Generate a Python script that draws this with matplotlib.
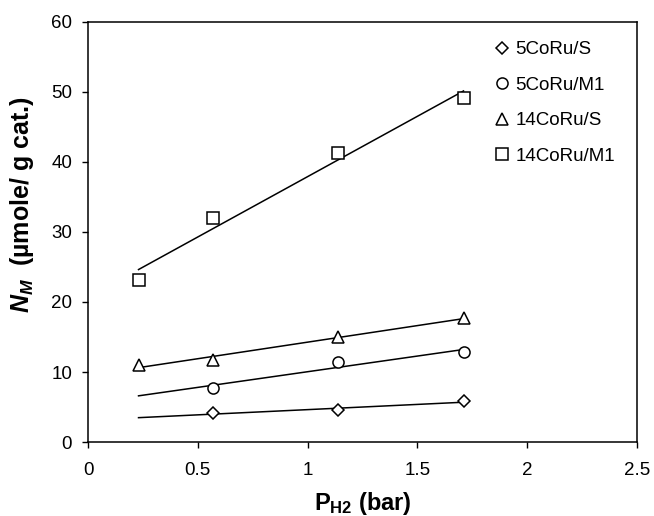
import numpy as np
import matplotlib
matplotlib.use("Agg")
import matplotlib.pyplot as plt

plt.rcParams["font.family"] = ["Liberation Sans", "DejaVu Sans"]
plt.rcParams["mathtext.fontset"] = "custom"
plt.rcParams["mathtext.rm"] = "Liberation Sans:bold"
plt.rcParams["mathtext.it"] = "Liberation Sans:bold:italic"
plt.rcParams["mathtext.bf"] = "Liberation Sans:bold"

# data
p_all = [0.23, 0.57, 1.14, 1.71]
p_three = [0.57, 1.14, 1.71]
series = [
    ("5CoRu/S", "D", p_three, [4.1, 4.6, 5.8]),
    ("5CoRu/M1", "o", p_three, [7.7, 11.5, 12.8]),
    ("14CoRu/S", "^", p_all, [11.0, 11.7, 15.0, 17.7]),
    ("14CoRu/M1", "s", p_all, [23.1, 32.0, 41.3, 49.2]),
]
marker_sizes = {"D": 6.5, "o": 8, "^": 8, "s": 8}
line_range = [0.23, 1.71]

fig = plt.figure(figsize=(6.54, 5.16), dpi=100)
ax = fig.add_axes([0.1346, 0.1434, 0.8394, 0.814])

for name, mk, xs, ys in series:
    k, b = np.polyfit(xs, ys, 1)
    xl = np.array(line_range)
    ax.plot(xl, k * xl + b, color="black", lw=1.1, zorder=1)
    ax.plot(xs, ys, linestyle="none", marker=mk, ms=marker_sizes[mk],
            mfc="white", mec="black", mew=1.1, label=name, zorder=2)

ax.set_xlim(0, 2.5)
ax.set_ylim(0, 60)
ax.set_xticks([0, 0.5, 1, 1.5, 2, 2.5])
ax.set_xticklabels(["0", "0.5", "1", "1.5", "2", "2.5"])
ax.set_yticks(range(0, 61, 10))
ax.tick_params(direction="out", length=4.5, width=1, labelsize=13.5)
ax.tick_params(axis="x", pad=10)
ax.tick_params(axis="y", pad=7)
for s in ax.spines.values():
    s.set_linewidth(1.1)

ax.set_xlabel(r"P$_{\mathrm{H2}}$ (bar)", fontsize=17, fontweight="bold", labelpad=8)
ax.set_ylabel(r"$N_M$  (µmole/ g cat.)", fontsize=18, fontweight="bold")
ax.yaxis.set_label_coords(-0.095, 0.564)

leg = ax.legend(loc="upper left", bbox_to_anchor=(0.727, 0.972), frameon=False,
                fontsize=13.5, labelspacing=0.98, handlelength=0.8,
                handletextpad=0.3, borderaxespad=0.0)

fig.savefig("out.png", dpi=100)
